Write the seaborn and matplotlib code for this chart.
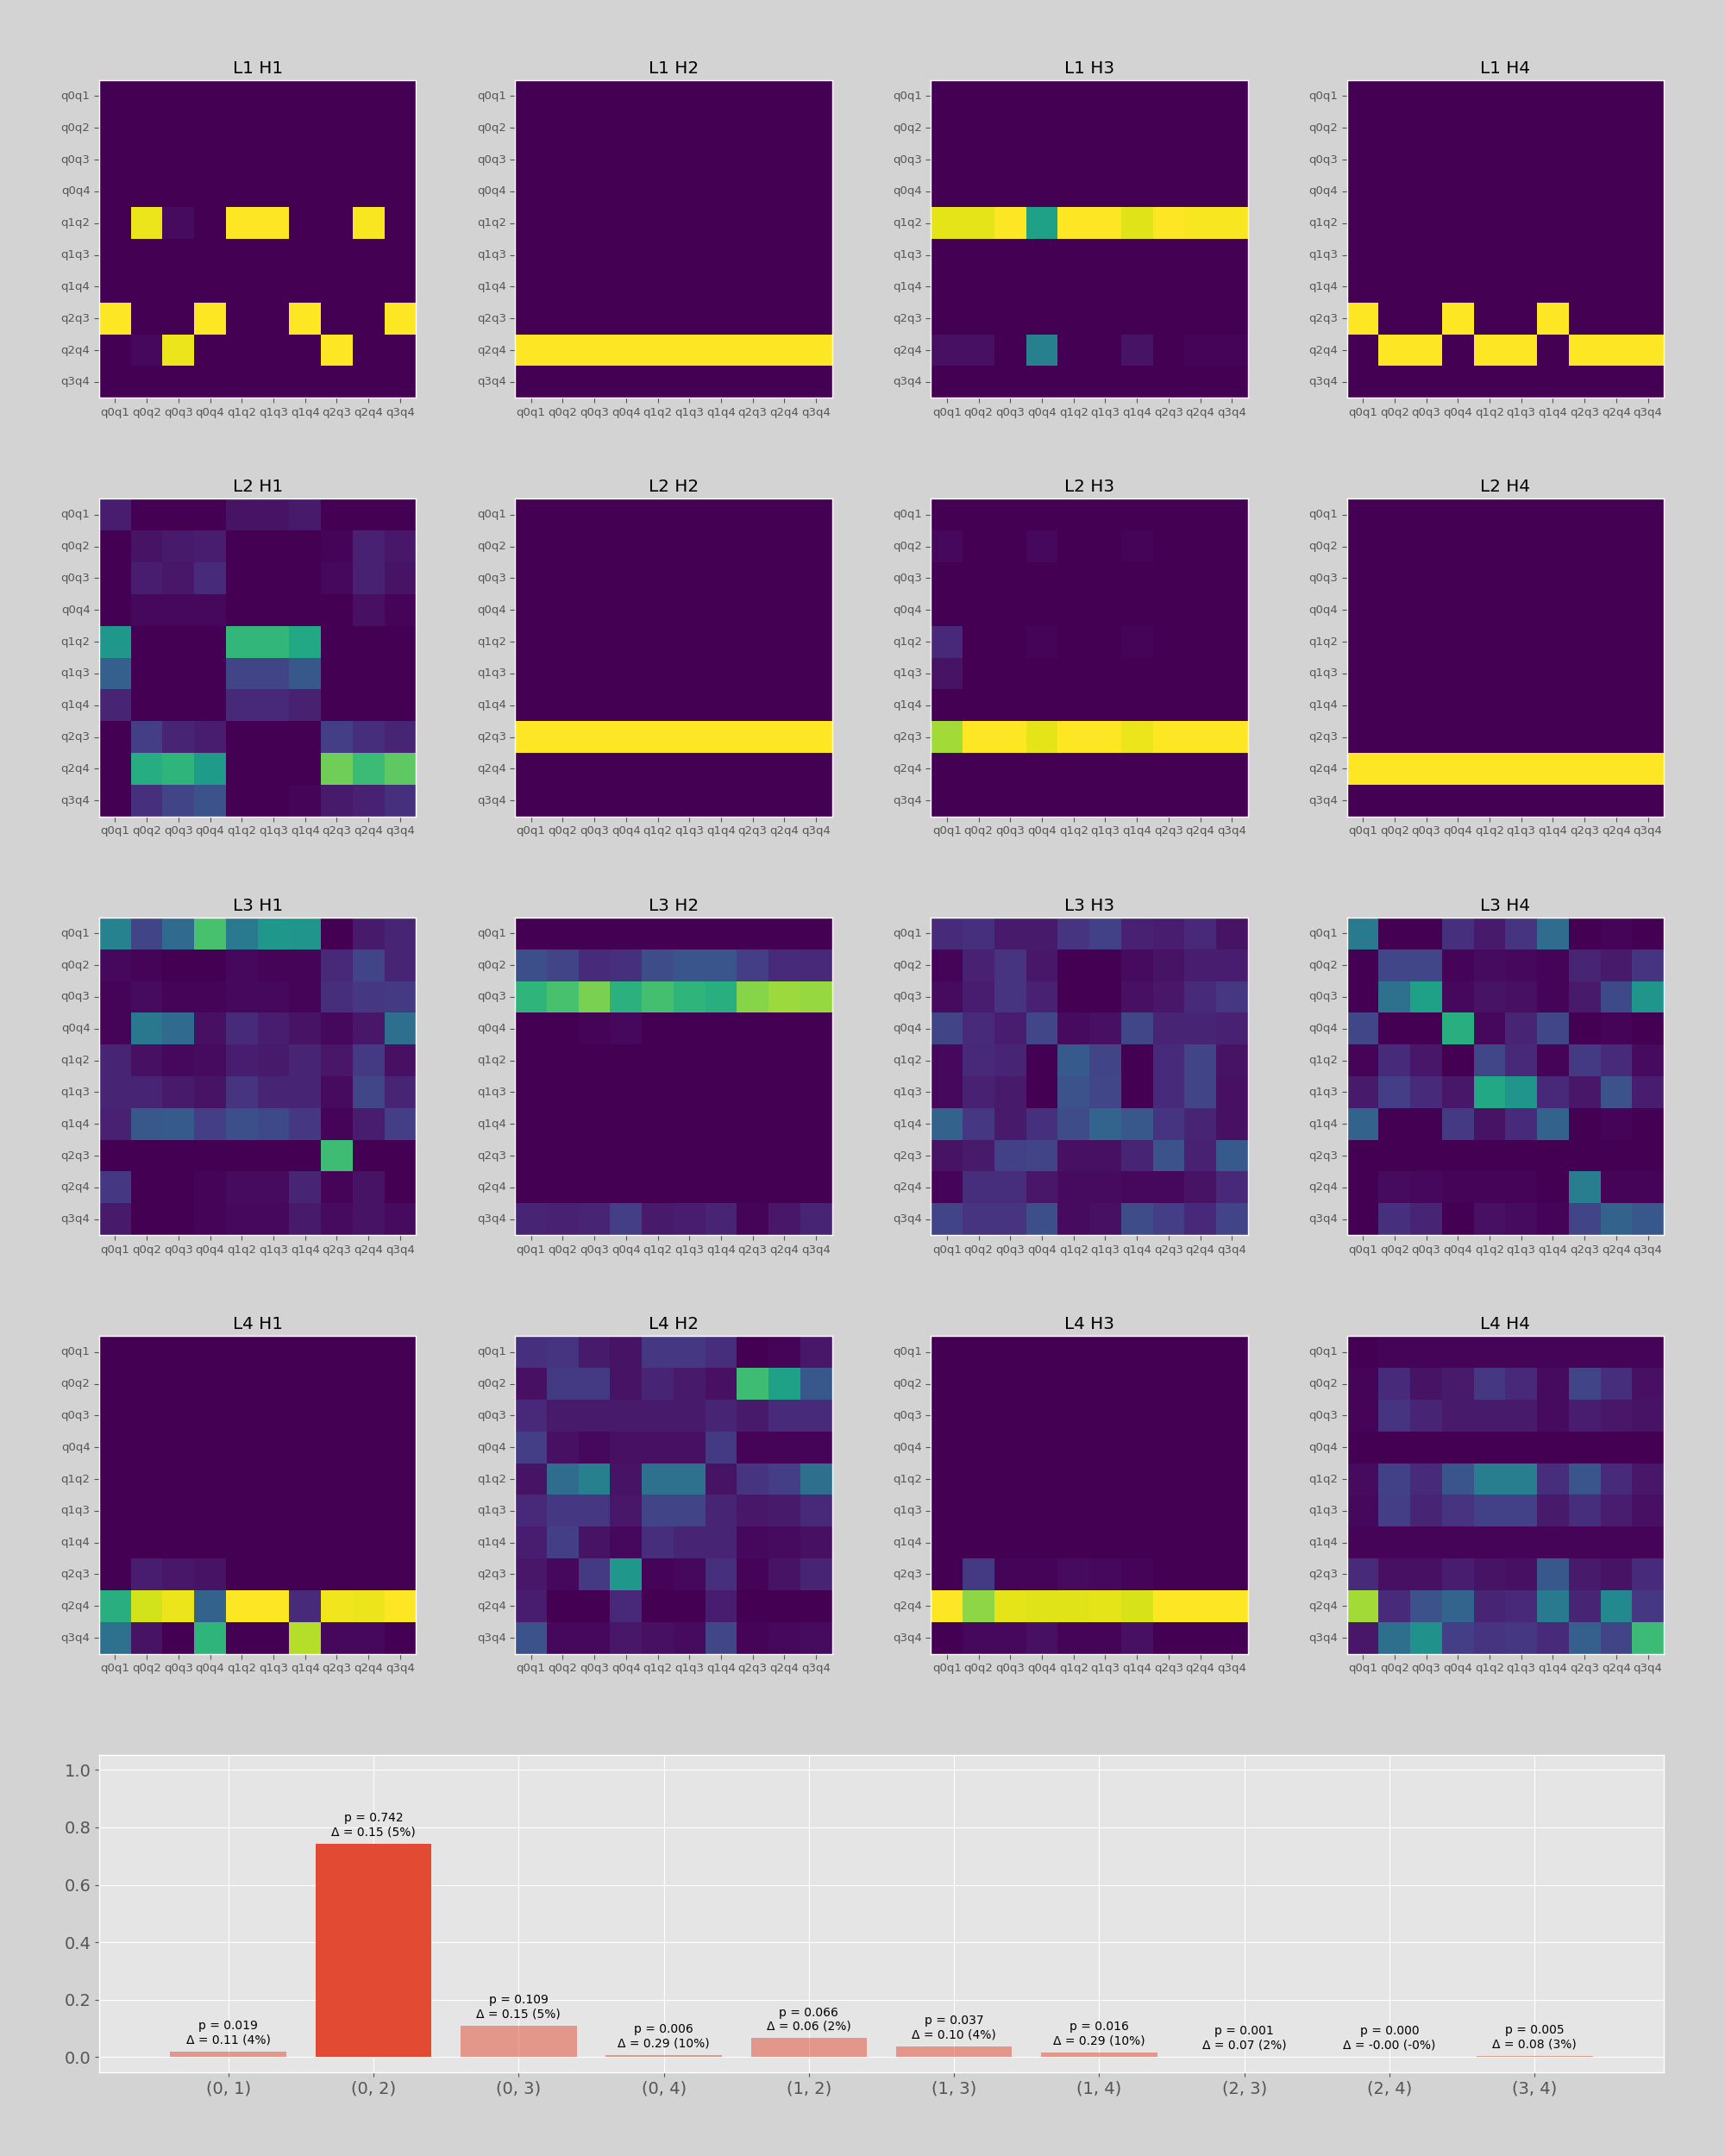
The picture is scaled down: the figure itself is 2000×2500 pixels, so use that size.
import numpy as np
import pandas as pd
import matplotlib
matplotlib.use("Agg")
import matplotlib.pyplot as plt
import seaborn as sns

plt.style.use("ggplot")

pairs = ["q0q1", "q0q2", "q0q3", "q0q4", "q1q2", "q1q3", "q1q4", "q2q3", "q2q4", "q3q4"]
Z = [0] * 10

# attention maps, rows = keys (y), columns = queries (x)
l1h1 = [Z, Z, Z, Z,
        [0, 0.97, 0.03, 0, 1, 1, 0, 0, 0.99, 0],
        Z, Z,
        [1, 0, 0, 1, 0, 0, 1, 0, 0, 1],
        [0, 0.02, 0.97, 0, 0, 0, 0, 1, 0, 0],
        Z]
l1h2 = [Z, Z, Z, Z, Z, Z, Z, Z, [1] * 10, Z]
l1h3 = [Z, Z, Z, Z,
        [0.96, 0.96, 1, 0.57, 1, 1, 0.95, 1, 0.99, 0.99],
        Z, Z, Z,
        [0.04, 0.04, 0, 0.43, 0, 0, 0.05, 0, 0.01, 0.01],
        Z]
l1h4 = [Z, Z, Z, Z, Z, Z, Z,
        [1, 0, 0, 1, 0, 0, 1, 0, 0, 0],
        [0, 1, 1, 0, 1, 1, 0, 1, 1, 1],
        Z]

l2h1 = [[0.08, 0, 0, 0, 0.05, 0.05, 0.07, 0, 0, 0],
        [0, 0.05, 0.07, 0.08, 0, 0, 0, 0.01, 0.09, 0.06],
        [0, 0.08, 0.06, 0.12, 0, 0, 0, 0.02, 0.09, 0.05],
        [0, 0.02, 0.02, 0.02, 0, 0, 0, 0, 0.04, 0.01],
        [0.53, 0, 0, 0, 0.66, 0.66, 0.6, 0, 0, 0],
        [0.3, 0, 0, 0, 0.2, 0.2, 0.27, 0, 0, 0],
        [0.1, 0, 0, 0, 0.11, 0.11, 0.09, 0, 0, 0],
        [0, 0.18, 0.1, 0.08, 0, 0, 0, 0.18, 0.13, 0.1],
        [0, 0.62, 0.65, 0.55, 0, 0, 0, 0.78, 0.68, 0.75],
        [0, 0.14, 0.2, 0.25, 0, 0, 0.01, 0.07, 0.09, 0.14]]
l2h2 = [Z, Z, Z, Z, Z, Z, Z, [1] * 10, Z, Z]
l2h3 = [Z,
        [0.02, 0, 0, 0.02, 0, 0, 0.01, 0, 0, 0],
        Z, Z,
        [0.11, 0, 0, 0.01, 0, 0, 0.01, 0, 0, 0],
        [0.05, 0, 0, 0, 0, 0, 0, 0, 0, 0],
        Z,
        [0.86, 1, 1, 0.96, 1, 1, 0.97, 1, 1, 1],
        Z, Z]
l2h4 = [Z, Z, Z, Z, Z, Z, Z, Z, [1] * 10, Z]

l3h1 = [[0.44, 0.2, 0.34, 0.71, 0.41, 0.53, 0.52, 0, 0.07, 0.1],
        [0.02, 0.01, 0, 0, 0.02, 0.01, 0.01, 0.11, 0.2, 0.1],
        [0.01, 0.03, 0.01, 0.01, 0.02, 0.02, 0.01, 0.13, 0.16, 0.17],
        [0.01, 0.4, 0.34, 0.04, 0.12, 0.08, 0.05, 0.02, 0.06, 0.36],
        [0.1, 0.04, 0.02, 0.03, 0.08, 0.07, 0.1, 0.06, 0.17, 0.04],
        [0.1, 0.1, 0.07, 0.05, 0.15, 0.1, 0.1, 0.03, 0.21, 0.1],
        [0.09, 0.27, 0.28, 0.18, 0.24, 0.22, 0.16, 0.01, 0.08, 0.18],
        [0, 0, 0, 0, 0, 0, 0, 0.69, 0, 0],
        [0.16, 0, 0, 0.01, 0.03, 0.03, 0.1, 0.01, 0.05, 0],
        [0.07, 0, 0, 0.01, 0.02, 0.02, 0.07, 0.03, 0.05, 0.03]]
l3h2 = [Z,
        [0.24, 0.2, 0.12, 0.14, 0.23, 0.26, 0.26, 0.18, 0.12, 0.11],
        [0.65, 0.71, 0.8, 0.64, 0.7, 0.65, 0.63, 0.82, 0.85, 0.84],
        [0, 0, 0.01, 0.02, 0, 0, 0, 0, 0, 0],
        Z, Z, Z, Z, Z,
        [0.1, 0.09, 0.1, 0.18, 0.07, 0.08, 0.1, 0.01, 0.06, 0.1]]
l3h3 = [[0.12, 0.14, 0.07, 0.07, 0.15, 0.19, 0.09, 0.08, 0.11, 0.05],
        [0.01, 0.09, 0.15, 0.06, 0, 0, 0.03, 0.05, 0.08, 0.08],
        [0.03, 0.08, 0.15, 0.09, 0, 0, 0.04, 0.06, 0.12, 0.16],
        [0.2, 0.12, 0.08, 0.21, 0.03, 0.04, 0.21, 0.1, 0.1, 0.09],
        [0.02, 0.11, 0.1, 0, 0.28, 0.2, 0, 0.12, 0.2, 0.05],
        [0.02, 0.09, 0.07, 0, 0.25, 0.21, 0, 0.12, 0.2, 0.04],
        [0.31, 0.16, 0.07, 0.14, 0.23, 0.32, 0.27, 0.15, 0.1, 0.04],
        [0.05, 0.07, 0.19, 0.2, 0.04, 0.04, 0.1, 0.25, 0.09, 0.28],
        [0.01, 0.13, 0.13, 0.06, 0.03, 0.03, 0.02, 0.02, 0.05, 0.11],
        [0.2, 0.15, 0.15, 0.24, 0.03, 0.04, 0.23, 0.18, 0.11, 0.2]]
l3h4 = [[0.41, 0, 0, 0.14, 0.07, 0.15, 0.35, 0, 0.01, 0],
        [0, 0.21, 0.21, 0.01, 0.03, 0.02, 0.01, 0.1, 0.07, 0.15],
        [0, 0.37, 0.57, 0.02, 0.05, 0.04, 0.01, 0.07, 0.22, 0.52],
        [0.21, 0, 0, 0.63, 0.02, 0.1, 0.21, 0, 0.01, 0],
        [0.01, 0.12, 0.06, 0, 0.21, 0.11, 0.01, 0.17, 0.12, 0.03],
        [0.07, 0.18, 0.12, 0.06, 0.6, 0.52, 0.11, 0.06, 0.25, 0.08],
        [0.31, 0, 0, 0.17, 0.05, 0.12, 0.31, 0, 0.01, 0],
        Z,
        [0, 0.03, 0.02, 0.01, 0.01, 0.01, 0, 0.42, 0.01, 0.01],
        [0, 0.14, 0.1, 0, 0.04, 0.03, 0.01, 0.2, 0.31, 0.27]]

l4h1 = [Z, Z, Z, Z, Z, Z, Z,
        [0, 0.08, 0.06, 0.05, 0, 0, 0, 0, 0, 0],
        [0.63, 0.93, 0.97, 0.31, 1, 1, 0.12, 0.98, 0.97, 1],
        [0.37, 0.05, 0, 0.65, 0, 0, 0.89, 0.02, 0.02, 0]]
l4h2 = [[0.14, 0.15, 0.07, 0.05, 0.16, 0.16, 0.13, 0, 0.01, 0.06],
        [0.04, 0.17, 0.17, 0.05, 0.1, 0.07, 0.04, 0.69, 0.57, 0.27],
        [0.11, 0.07, 0.07, 0.07, 0.07, 0.07, 0.1, 0.07, 0.12, 0.12],
        [0.18, 0.04, 0.02, 0.04, 0.04, 0.04, 0.17, 0.01, 0.01, 0.01],
        [0.05, 0.35, 0.43, 0.05, 0.37, 0.37, 0.05, 0.15, 0.18, 0.36],
        [0.11, 0.16, 0.16, 0.06, 0.2, 0.2, 0.1, 0.06, 0.07, 0.11],
        [0.08, 0.18, 0.05, 0.02, 0.13, 0.1, 0.1, 0.02, 0.03, 0.04],
        [0.06, 0.02, 0.17, 0.53, 0.01, 0.02, 0.14, 0.01, 0.05, 0.1],
        [0.08, 0, 0, 0.11, 0, 0, 0.08, 0, 0, 0],
        [0.25, 0.02, 0.02, 0.06, 0.04, 0.03, 0.21, 0.01, 0.02, 0.03]]
l4h3 = [Z, Z, Z, Z, Z, Z, Z,
        [0, 0.17, 0.01, 0.01, 0.03, 0.02, 0.01, 0, 0, 0],
        [1, 0.83, 0.96, 0.95, 0.95, 0.96, 0.94, 1, 1, 1],
        [0, 0.02, 0.02, 0.04, 0.01, 0.01, 0.04, 0, 0, 0]]
l4h4 = [[0, 0.01, 0.01, 0.01, 0.01, 0.01, 0.01, 0.01, 0.01, 0.01],
        [0.01, 0.12, 0.05, 0.07, 0.16, 0.11, 0.03, 0.2, 0.13, 0.04],
        [0.01, 0.15, 0.1, 0.07, 0.07, 0.07, 0.03, 0.08, 0.06, 0.05],
        Z,
        [0.03, 0.19, 0.12, 0.26, 0.42, 0.42, 0.13, 0.26, 0.12, 0.06],
        [0.02, 0.18, 0.1, 0.15, 0.19, 0.19, 0.07, 0.13, 0.08, 0.04],
        [0.01] * 10,
        [0.12, 0.04, 0.04, 0.08, 0.05, 0.04, 0.27, 0.07, 0.05, 0.12],
        [0.86, 0.12, 0.25, 0.32, 0.1, 0.11, 0.41, 0.1, 0.47, 0.16],
        [0.06, 0.36, 0.5, 0.18, 0.15, 0.16, 0.12, 0.3, 0.2, 0.68]]

maps = [[l1h1, l1h2, l1h3, l1h4],
        [l2h1, l2h2, l2h3, l2h4],
        [l3h1, l3h2, l3h3, l3h4],
        [l4h1, l4h2, l4h3, l4h4]]

# bar chart data
bar_labels = ["(0, 1)", "(0, 2)", "(0, 3)", "(0, 4)", "(1, 2)",
              "(1, 3)", "(1, 4)", "(2, 3)", "(2, 4)", "(3, 4)"]
p_vals = [0.019, 0.742, 0.109, 0.006, 0.066, 0.037, 0.016, 0.001, 0.000, 0.005]
deltas = [0.11, 0.15, 0.15, 0.29, 0.06, 0.10, 0.29, 0.07, -0.00, 0.08]
delta_pct = ["4", "5", "5", "10", "2", "4", "10", "2", "-0", "3"]
best = 1

fig = plt.figure(figsize=(20, 25), facecolor="lightgray")
gs = fig.add_gridspec(5, 4, left=0.0575, right=0.9645, top=0.9628, bottom=0.0388,
                      wspace=0.313, hspace=0.318)

for i in range(4):
    for j in range(4):
        ax = fig.add_subplot(gs[i, j])
        df = pd.DataFrame(maps[i][j], index=pairs, columns=pairs)
        sns.heatmap(df, ax=ax, cmap="viridis", vmin=0, vmax=1, cbar=False)
        for sp in ax.spines.values():
            sp.set_visible(True)
            sp.set_color("white")
        ax.set_title(f"L{i + 1} H{j + 1}", fontsize=14.4)
        ax.tick_params(axis="both", labelsize=9.5, colors="#555555", length=4)
        plt.setp(ax.get_xticklabels(), rotation=0)
        plt.setp(ax.get_yticklabels(), rotation=0)

ax = fig.add_subplot(gs[4, :])
bdf = pd.DataFrame({"pair": bar_labels, "p": p_vals})
sns.barplot(data=bdf, x="pair", y="p", ax=ax, color="#E24A33", saturation=1, width=0.8)
for k, patch in enumerate(ax.patches):
    patch.set_alpha(1.0 if k == best else 0.5)
    patch.set_edgecolor("none")
for k in range(len(bar_labels)):
    ax.text(k, p_vals[k] + 0.02,
            f"p = {p_vals[k]:.3f}\nΔ = {deltas[k]:.2f} ({delta_pct[k]}%)",
            ha="center", va="bottom", fontsize=10)
ax.set_xlim(-0.89, 9.89)
ax.set_ylim(-0.053, 1.053)
ax.xaxis.grid(True)
ax.yaxis.grid(True)
ax.set_xlabel("")
ax.set_ylabel("")
ax.tick_params(axis="both", labelsize=14, colors="#555555")

fig.savefig("out.png", dpi=100, facecolor=fig.get_facecolor())
